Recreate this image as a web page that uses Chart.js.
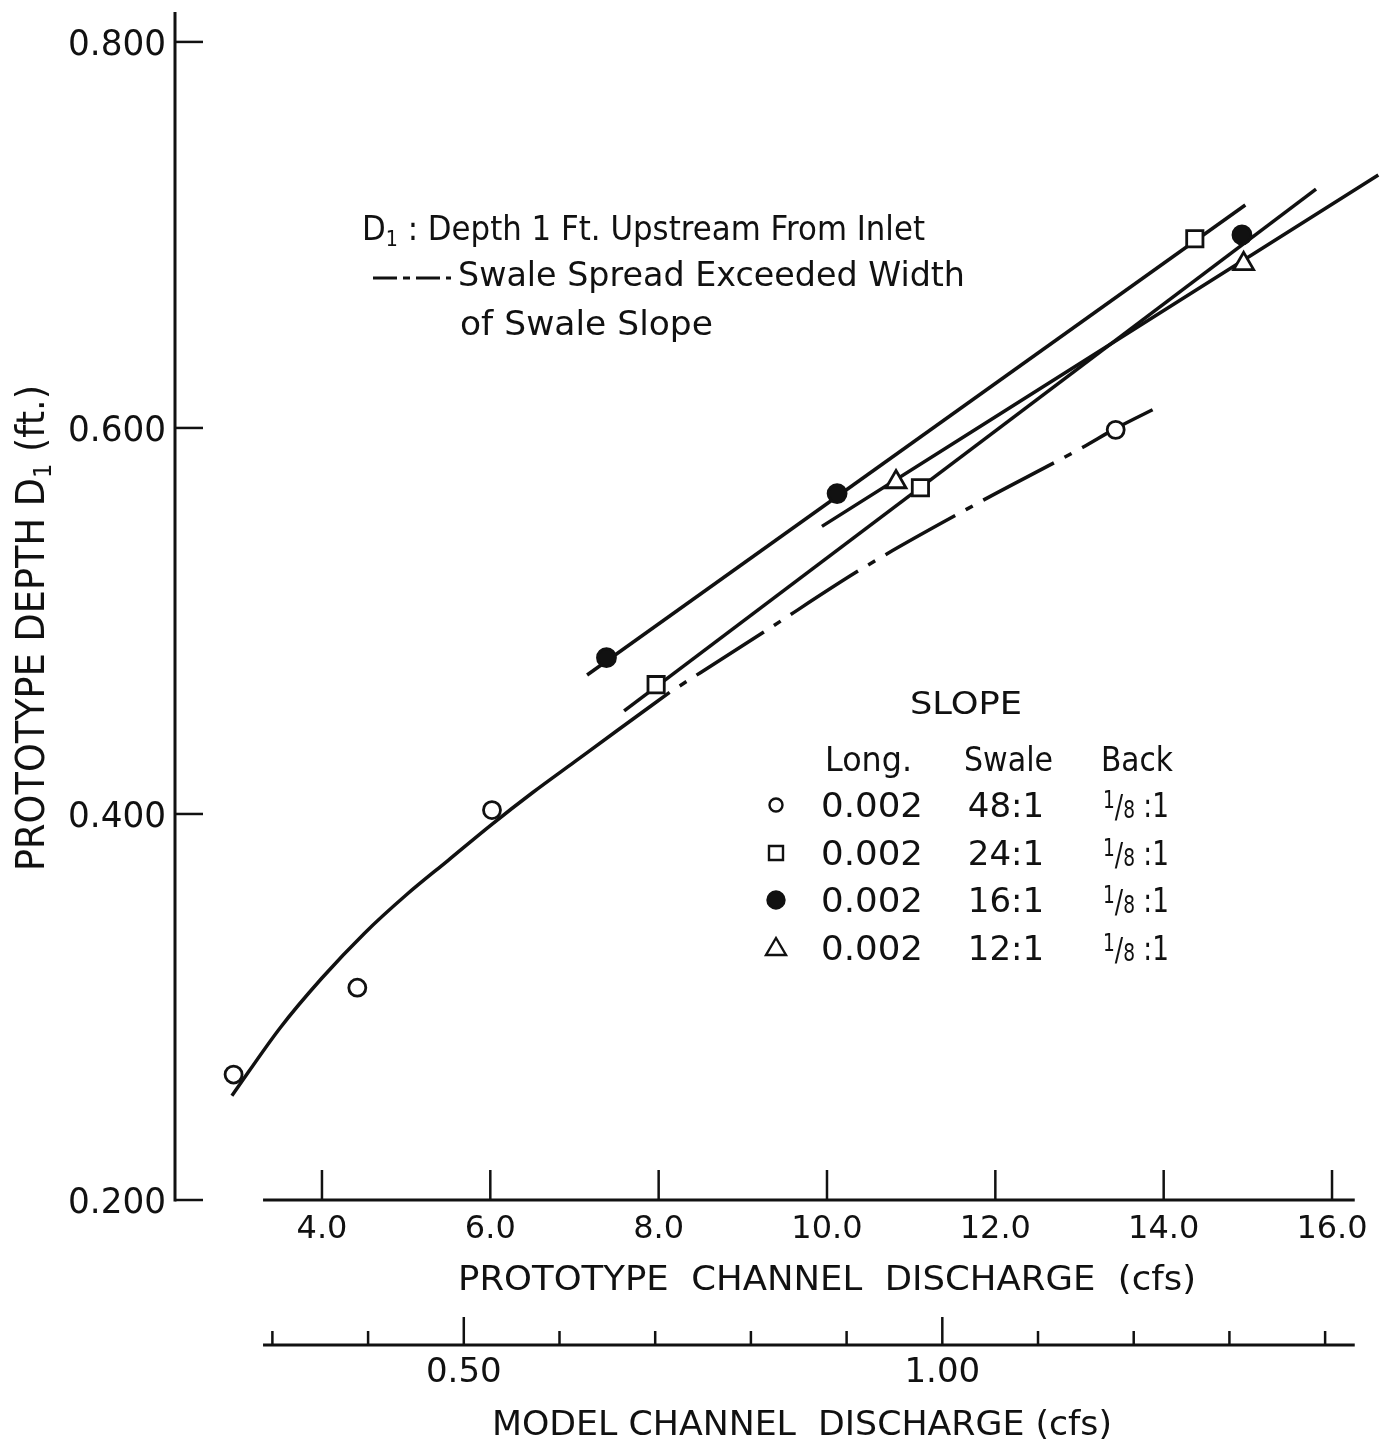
<!DOCTYPE html>
<html>
<head>
<meta charset="utf-8">
<title>Prototype depth D1 vs channel discharge</title>
<script src="https://cdn.jsdelivr.net/npm/chart.js@4.4.1/dist/chart.umd.min.js"></script>
<style>
  html, body { margin: 0; padding: 0; background: #fff; }
  canvas { display: block; }
</style>
</head>
<body>
<canvas id="chart" width="1380" height="1446"></canvas>
<script>
// --- values (prototype discharge in cfs, depth in ft) ---
const q48 = [2.95, 4.42, 6.02, 13.43];           // swale 48:1, open circles
const d48 = [0.265, 0.310, 0.402, 0.599];
const q24 = [7.97, 11.11, 14.37];                // swale 24:1, open squares
const d24 = [0.467, 0.569, 0.698];
const q16 = [7.38, 10.12, 14.93];                // swale 16:1, filled circles
const d16 = [0.481, 0.566, 0.700];
const q12 = [10.82, 14.95];                      // swale 12:1, triangles
const d12 = [0.572, 0.685];

// drawn curves
const curve48q = [2.93, 3.5, 4.0, 4.5, 5.0, 5.5, 6.0, 6.5, 7.0, 7.5, 8.13];
const curve48d = [0.254, 0.289, 0.315, 0.338, 0.358, 0.376, 0.394, 0.411, 0.427, 0.443, 0.463];
const spread48q = [8.13, 9.24, 10.45, 11.79, 13.04, 13.42, 13.94];   // dash-dot part
const spread48d = [0.463, 0.494, 0.528, 0.561, 0.590, 0.5995, 0.611];
const lineAq = [7.15, 14.97];
const lineAd = [0.472, 0.7155];
const lineBq = [7.59, 15.81];
const lineBd = [0.4534, 0.7237];
const lineCq = [9.94, 16.55];
const lineCd = [0.549, 0.731];

// axes
const yTicks = [0.2, 0.4, 0.6, 0.8];
const yTickLabels = ['0.200', '0.400', '0.600', '0.800'];
const protoTicks = [4, 6, 8, 10, 12, 14, 16];
const protoTickLabels = ['4.0', '6.0', '8.0', '10.0', '12.0', '14.0', '16.0'];
const modelMajor = [0.5, 1.0];
const modelMajorLabels = ['0.50', '1.00'];
const modelMinor = [0.3, 0.4, 0.6, 0.7, 0.8, 0.9, 1.1, 1.2, 1.3, 1.4];
const MODEL_SCALE = 11.37;   // prototype cfs per model cfs

// legend table
const legendLong = ['0.002', '0.002', '0.002', '0.002'];
const legendSwale = ['48:1', '24:1', '16:1', '12:1'];
const legendBack = ['1/8 :1', '1/8 :1', '1/8 :1', '1/8 :1'];

const FONT = '"DejaVu Sans", "Liberation Sans", sans-serif';
const INK = '#111';

function pts(xs, ys) {
    return xs.map((x, i) => ({ x: x, y: ys[i] }));
}

function lineSet(xs, ys, dash, offset) {
    return {
        type: 'line', data: pts(xs, ys),
        borderColor: INK, borderWidth: 3.5, borderCapStyle: 'butt',
        borderDash: dash || [], borderDashOffset: offset || 0,
        cubicInterpolationMode: 'monotone',
        pointRadius: 0, fill: false, order: 2
    };
}

function markSet(label, xs, ys, style, radius, filled) {
    return {
        type: 'scatter', label: label, data: pts(xs, ys),
        pointStyle: style, pointRadius: radius,
        pointBackgroundColor: filled ? INK : '#fff',
        pointBorderColor: INK, pointBorderWidth: 2.8,
        showLine: false, order: 1
    };
}

// text helper: parts = [[text, size, dy]], stretched to width if given
function drawText(ctx, parts, x, y, align, width) {
    ctx.save();
    let total = 0;
    const widths = parts.map(p => {
        ctx.font = p[1] + 'px ' + FONT;
        const w = ctx.measureText(p[0]).width;
        total += w;
        return w;
    });
    const sx = width ? width / total : 1;
    const w = total * sx;
    const start = align === 'center' ? x - w / 2 : (align === 'right' ? x - w : x);
    ctx.translate(start, y);
    ctx.scale(sx, 1);
    ctx.fillStyle = INK;
    ctx.textAlign = 'left';
    ctx.textBaseline = 'alphabetic';
    let cx = 0;
    parts.forEach((p, i) => {
        ctx.font = p[1] + 'px ' + FONT;
        ctx.fillText(p[0], cx, p[2] || 0);
        cx += widths[i];
    });
    ctx.restore();
}

function seg(ctx, x1, y1, x2, y2, lw) {
    ctx.beginPath();
    ctx.lineWidth = lw;
    ctx.moveTo(x1, y1);
    ctx.lineTo(x2, y2);
    ctx.stroke();
}

function legendMark(ctx, ds, cx, cy) {
    ctx.save();
    ctx.lineWidth = 2.4;
    ctx.strokeStyle = INK;
    ctx.fillStyle = ds.pointBackgroundColor;
    ctx.beginPath();
    if (ds.pointStyle === 'rect') {
        ctx.rect(cx - 7, cy - 7, 14, 14);
    } else if (ds.pointStyle === 'triangle') {
        ctx.moveTo(cx, cy - 10);
        ctx.lineTo(cx + 10, cy + 7);
        ctx.lineTo(cx - 10, cy + 7);
        ctx.closePath();
    } else {
        ctx.arc(cx, cy, ds.pointBackgroundColor === '#fff' ? 6.5 : 8.5, 0, Math.PI * 2);
    }
    ctx.fill();
    ctx.stroke();
    ctx.restore();
}

// "1/8 :1" drawn as a small built-up fraction followed by the ratio
function fractionParts(str) {
    const slash = str.indexOf('/');
    const space = str.indexOf(' ');
    return [
        [str.slice(0, slash), 24, -9],
        [str.slice(slash, slash + 1), 32],
        [str.slice(slash + 1, space), 24, 1],
        [str.slice(space), 34]
    ];
}

const paperAxes = {
    id: 'paperAxes',
    beforeDraw(chart) {
        const ctx = chart.ctx;
        ctx.save();
        ctx.fillStyle = '#fff';
        ctx.fillRect(0, 0, chart.width, chart.height);
        ctx.restore();
    },
    afterDraw(chart) {
        const ctx = chart.ctx;
        const xs = chart.scales.x;
        const ys = chart.scales.y;
        const area = chart.chartArea;
        ctx.save();
        ctx.strokeStyle = INK;
        ctx.lineCap = 'butt';

        // vertical axis with inward ticks
        const yAxisX = area.left;
        seg(ctx, yAxisX, area.top, yAxisX, ys.getPixelForValue(0.2) + 1.5, 3);
        yTicks.forEach((v, i) => {
            const py = ys.getPixelForValue(v);
            seg(ctx, yAxisX, py, yAxisX + 28, py, 2.5);
            drawText(ctx, [[yTickLabels[i], 36]], yAxisX - 9, py + 13, 'right', 98);
        });
        ctx.save();
        ctx.translate(44, 628);
        ctx.rotate(-Math.PI / 2);
        drawText(ctx, [['PROTOTYPE DEPTH D', 39], ['1', 24, 7], [' (ft.)', 39]], 0, 0, 'center', 486);
        ctx.restore();

        // prototype discharge axis
        const axLeft = xs.getPixelForValue(3.30);
        const axRight = xs.getPixelForValue(16.27);
        const protoY = ys.getPixelForValue(0.2);
        seg(ctx, axLeft, protoY, axRight, protoY, 3);
        protoTicks.forEach((v, i) => {
            const px = xs.getPixelForValue(v);
            seg(ctx, px, protoY, px, protoY - 30, 2.5);
            drawText(ctx, [[protoTickLabels[i], 32]], px, protoY + 38, 'center');
        });
        drawText(ctx, [['PROTOTYPE  CHANNEL  DISCHARGE  (cfs)', 34]], 827, 1290, 'center', 738);

        // model discharge axis, placed through the prototype scale
        const modelY = protoY + 145;
        seg(ctx, axLeft, modelY, axRight, modelY, 3);
        modelMinor.forEach(v => {
            const px = xs.getPixelForValue(v * MODEL_SCALE);
            seg(ctx, px, modelY, px, modelY - 14, 2.5);
        });
        modelMajor.forEach((v, i) => {
            const px = xs.getPixelForValue(v * MODEL_SCALE);
            seg(ctx, px, modelY, px, modelY - 28, 2.5);
            drawText(ctx, [[modelMajorLabels[i], 34]], px, modelY + 37, 'center');
        });
        drawText(ctx, [['MODEL CHANNEL  DISCHARGE (cfs)', 34]], 802, 1435, 'center', 620);

        // note block
        drawText(ctx, [['D', 34], ['1', 21, 6], [' : Depth 1 Ft. Upstream From Inlet', 34]], 362, 240, 'left', 563);
        ctx.save();
        ctx.setLineDash([24, 6, 7, 6]);
        seg(ctx, 373, 278, 451, 278, 3);
        ctx.restore();
        drawText(ctx, [['Swale Spread Exceeded Width', 34]], 458, 286, 'left', 507);
        drawText(ctx, [['of Swale Slope', 34]], 460, 335, 'left', 253);

        // slope table
        drawText(ctx, [['SLOPE', 32]], 966, 714, 'center', 112);
        drawText(ctx, [['Long.', 34]], 825, 771, 'left', 87);
        drawText(ctx, [['Swale', 34]], 964, 771, 'left', 89);
        drawText(ctx, [['Back', 34]], 1101, 771, 'left', 72);
        const rowBase = [817, 865, 912, 960];
        const marks = chart.data.datasets.filter(d => d.type === 'scatter');
        marks.forEach((ds, i) => {
            legendMark(ctx, ds, 776, rowBase[i] - 12);
            drawText(ctx, [[legendLong[i], 34]], 821, rowBase[i], 'left', 102);
            drawText(ctx, [[legendSwale[i], 34]], 1006, rowBase[i], 'center');
            drawText(ctx, fractionParts(legendBack[i]), 1103, rowBase[i], 'left', 66);
        });
        ctx.restore();
    }
};

new Chart(document.getElementById('chart'), {
    type: 'scatter',
    data: {
        datasets: [
            markSet('48:1', q48, d48, 'circle', 8.5, false),
            markSet('24:1', q24, d24, 'rect', 11.5, false),
            markSet('16:1', q16, d16, 'circle', 9, true),
            markSet('12:1', q12, d12, 'triangle', 11.5, false),
            lineSet(curve48q, curve48d),
            lineSet(spread48q, spread48d, [80, 12, 8, 12], 80),
            lineSet(lineAq, lineAd),
            lineSet(lineBq, lineBd),
            lineSet(lineCq, lineCd)
        ]
    },
    options: {
        responsive: false,
        devicePixelRatio: 1,
        animation: false,
        events: [],
        layout: { autoPadding: false, padding: { left: 175, right: 0, top: 12, bottom: 246 } },
        plugins: { legend: { display: false }, tooltip: { enabled: false } },
        scales: {
            x: { type: 'linear', min: 2.254, max: 16.57, display: false },
            y: { type: 'linear', min: 0.2, max: 0.8155, display: false }
        }
    },
    plugins: [paperAxes]
});
</script>
</body>
</html>
